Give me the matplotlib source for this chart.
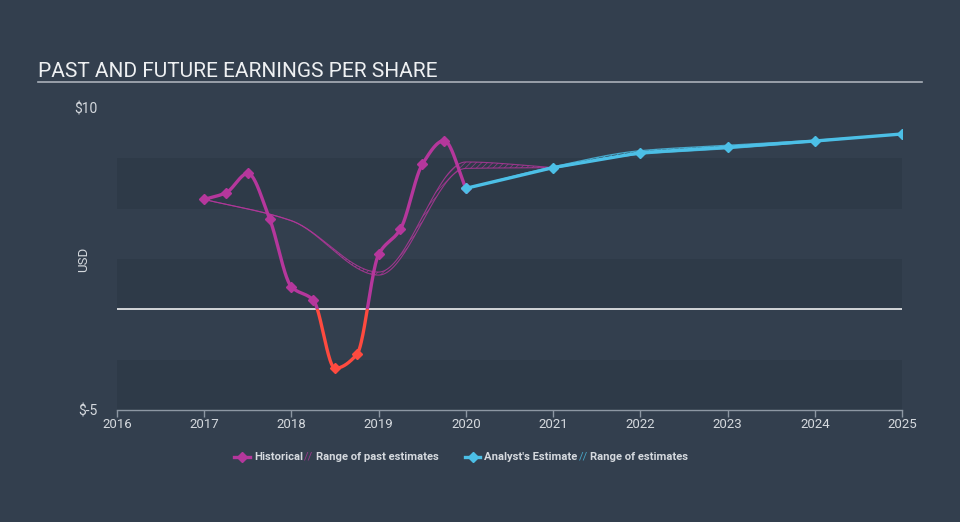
import numpy as np
import matplotlib.pyplot as plt
from matplotlib.lines import Line2D
from matplotlib.patches import Rectangle

plt.rcParams['font.family'] = ['Roboto', 'DejaVu Sans']
plt.rcParams['hatch.linewidth'] = 0.6

BG = '#333f4e'
BAND = '#2e3a48'
PURPLE = '#b5379c'
RED = '#ff4a3f'
CYAN = '#4cbfe6'
TXT = '#d5d9de'
AXC = '#8d97a3'

# historical EPS (quarterly)
hist_x = [2017.0, 2017.25, 2017.5, 2017.75, 2018.0, 2018.25, 2018.5, 2018.75,
          2019.0, 2019.25, 2019.5, 2019.75, 2020.0]
hist_y = [5.46, 5.79, 6.75, 4.49, 1.12, 0.46, -2.93, -2.24,
          2.73, 3.99, 7.20, 8.38, 6.01]

# range of past estimates
past_x = [2017, 2018, 2019, 2020, 2021]
past_lo = [5.46, 4.40, 1.70, 7.00, 7.04]
past_hi = [5.46, 4.40, 1.85, 7.32, 7.04]

# analyst estimates
est_x = [2020, 2021, 2022, 2023, 2024, 2025]
est_y = [6.01, 7.04, 7.78, 8.05, 8.36, 8.71]
est_lo = [6.01, 7.00, 7.70, 7.98, 8.33, 8.71]
est_hi = [6.01, 7.08, 7.88, 8.15, 8.40, 8.71]

years = list(range(2016, 2026))


def monotone(x, y, n=40):
    # monotone cubic (Fritsch-Carlson) for drawing a smooth line through the points
    x = np.asarray(x, float)
    y = np.asarray(y, float)
    h = np.diff(x)
    d = np.diff(y) / h
    m = np.zeros_like(y)
    m[0], m[-1] = d[0], d[-1]
    for i in range(1, len(y) - 1):
        if d[i - 1] * d[i] <= 0:
            m[i] = 0
        else:
            w1 = 2 * h[i] + h[i - 1]
            w2 = h[i] + 2 * h[i - 1]
            m[i] = (w1 + w2) / (w1 / d[i - 1] + w2 / d[i])
    xs, ys = [], []
    for i in range(len(h)):
        t = np.linspace(0, 1, n, endpoint=(i == len(h) - 1))
        h00 = 2 * t**3 - 3 * t**2 + 1
        h10 = t**3 - 2 * t**2 + t
        h01 = -2 * t**3 + 3 * t**2
        h11 = t**3 - t**2
        xs.append(x[i] + t * h[i])
        ys.append(h00 * y[i] + h10 * h[i] * m[i] + h01 * y[i + 1] + h11 * h[i] * m[i + 1])
    return np.concatenate(xs), np.concatenate(ys)


fig = plt.figure(figsize=(9.6, 5.22), dpi=100, facecolor=BG)
ax = fig.add_axes([117 / 960, 112 / 522, 785 / 960, 302 / 522], facecolor=BG)
ax.set_xlim(2016, 2025)
ax.set_ylim(-5, 10)

for lo in [-5, 0, 5]:
    ax.axhspan(lo, lo + 2.5, color=BAND, lw=0, zorder=0)
ax.axhline(0, color='white', lw=1.1, zorder=1)

# range of past estimates
px, plo = monotone(past_x, past_lo)
_, phi = monotone(past_x, past_hi)
ax.fill_between(px, plo, phi, facecolor='none', edgecolor=PURPLE, hatch='//////', lw=0, alpha=0.7, zorder=2)
ax.plot(px, plo, color=PURPLE, lw=0.8, alpha=0.8, zorder=2)
ax.plot(px, phi, color=PURPLE, lw=0.8, alpha=0.8, zorder=2)

# range of estimates
ex, elo = monotone(est_x, est_lo)
_, ehi = monotone(est_x, est_hi)
ax.fill_between(ex, elo, ehi, facecolor='none', edgecolor=CYAN, hatch='//////', lw=0, alpha=0.8, zorder=2)
ax.plot(ex, elo, color=CYAN, lw=0.9, alpha=0.8, zorder=2)
ax.plot(ex, ehi, color=CYAN, lw=0.9, alpha=0.8, zorder=2)

# historical line, red below zero
hx, hy = monotone(hist_x, hist_y)
top = ax.plot(hx, hy, color=PURPLE, lw=2.4, solid_capstyle='round', zorder=3)[0]
bot = ax.plot(hx, hy, color=RED, lw=2.4, solid_capstyle='round', zorder=3)[0]
top.set_clip_path(Rectangle((2015, 0), 20, 20, transform=ax.transData))
bot.set_clip_path(Rectangle((2015, -20), 20, 20, transform=ax.transData))
hxa = np.array(hist_x)
hya = np.array(hist_y)
ax.plot(hxa[hya >= 0], hya[hya >= 0], 'D', color=PURPLE, ms=5.5, zorder=4)
ax.plot(hxa[hya < 0], hya[hya < 0], 'D', color=RED, ms=5.5, zorder=4)

# analyst estimate
ax.plot(est_x, est_y, color=CYAN, lw=2.4, marker='D', ms=5.5, zorder=5)

# axes styling
for s in ['top', 'right', 'left']:
    ax.spines[s].set_visible(False)
ax.spines['bottom'].set_color(AXC)
ax.spines['bottom'].set_linewidth(1)
ax.set_xticks(years)
ax.set_xticklabels([str(y) for y in years])
ax.tick_params(axis='x', colors=AXC, length=5, width=1, labelsize=9.5, labelcolor=TXT, pad=1)
ax.set_yticks([-5, 10])
ax.set_yticklabels(['$-5', '$10'])
ax.tick_params(axis='y', length=0, labelsize=10, labelcolor=TXT, pad=14)
ax.set_ylabel('USD', color=TXT, fontsize=9.5)
ax.yaxis.set_label_coords(-0.034, 0.5)

# title
fig.text(38 / 960, 1 - 77 / 522, 'PAST AND FUTURE EARNINGS PER SHARE', color='#eef0f2',
         fontsize=15, va='baseline', ha='left')
fig.add_artist(Line2D([38 / 960, 922 / 960], [1 - 82 / 522] * 2, color='#aab1ba', lw=1.2))

# legend
ly = 1 - 457 / 522
fs = 8.1
fig.add_artist(Line2D([234 / 960, 250 / 960], [ly, ly], color=PURPLE, lw=2.4))
fig.add_artist(Line2D([242 / 960], [ly], color=PURPLE, marker='D', ms=5.5))
fig.text(254 / 960, ly, 'Historical', color=TXT, fontsize=fs, fontweight='bold', va='center')
fig.text(304 / 960, ly, '//', color=PURPLE, fontsize=8, va='center', alpha=0.8)
fig.text(316 / 960, ly, 'Range of past estimates', color=TXT, fontsize=fs, fontweight='bold', va='center')
fig.add_artist(Line2D([465 / 960, 480 / 960], [ly, ly], color=CYAN, lw=2.4))
fig.add_artist(Line2D([472.5 / 960], [ly], color=CYAN, marker='D', ms=5.5))
fig.text(484 / 960, ly, "Analyst's Estimate", color=TXT, fontsize=fs, fontweight='bold', va='center')
fig.text(579 / 960, ly, '//', color=CYAN, fontsize=8, va='center', alpha=0.8)
fig.text(590 / 960, ly, 'Range of estimates', color=TXT, fontsize=fs, fontweight='bold', va='center')

fig.savefig('out.png', dpi=100, facecolor=BG)
